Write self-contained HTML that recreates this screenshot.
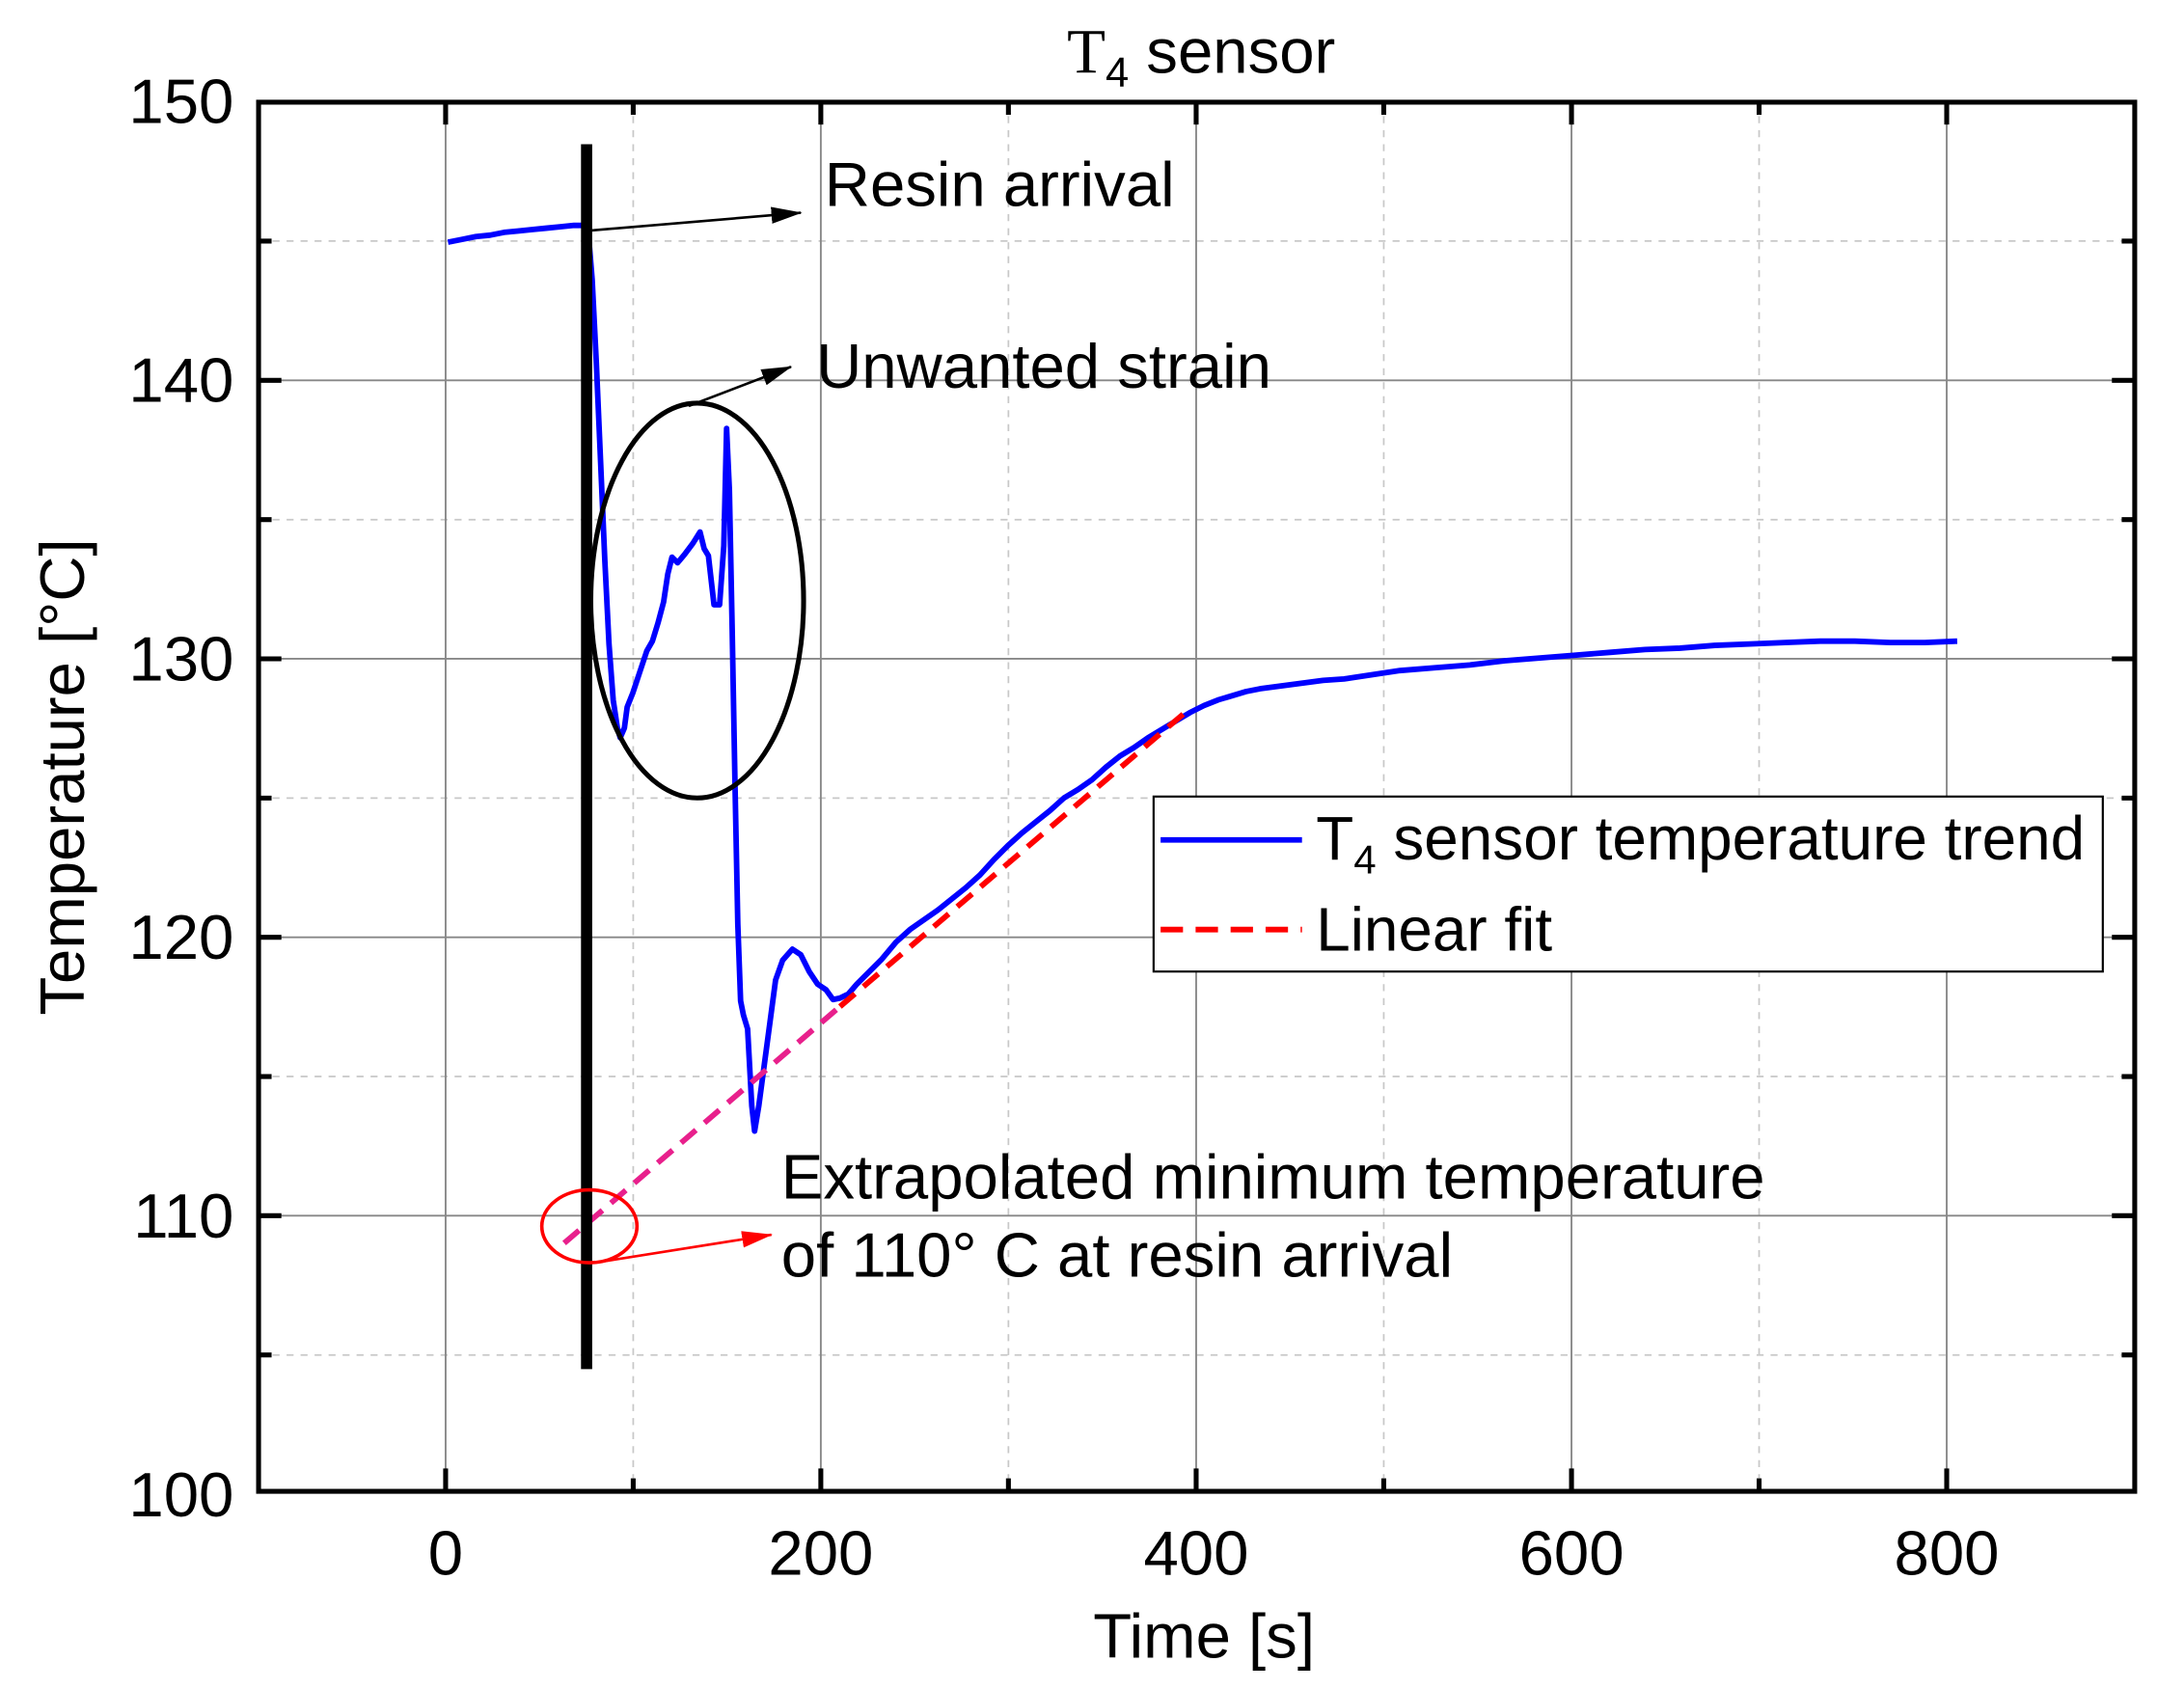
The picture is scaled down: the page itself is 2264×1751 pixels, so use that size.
<!DOCTYPE html>
<html><head><meta charset="utf-8"><style>
html,body{margin:0;padding:0;background:#fff;}
svg{display:block;}
text{font-family:"Liberation Sans",Arial,sans-serif;fill:#000;}
</style></head><body>
<svg width="2264" height="1751" viewBox="0 0 1560 1206.5" preserveAspectRatio="none" xmlns="http://www.w3.org/2000/svg">
<defs>
<marker id="ak" markerWidth="22" markerHeight="12" refX="21" refY="6" orient="auto" markerUnits="userSpaceOnUse"><path d="M0,0 L22,6 L0,12 z" fill="#000"/></marker>
<marker id="akr" markerWidth="22" markerHeight="12" refX="21" refY="6" orient="auto" markerUnits="userSpaceOnUse"><path d="M0,0 L22,6 L0,12 z" fill="#f00"/></marker>
</defs>
<g stroke="#c8c8c8" stroke-width="1.2" stroke-dasharray="5,5">
<line x1="184.7" y1="172.2" x2="1524.8" y2="172.2"/>
<line x1="184.7" y1="371.2" x2="1524.8" y2="371.2"/>
<line x1="184.7" y1="570.1" x2="1524.8" y2="570.1"/>
<line x1="184.7" y1="769" x2="1524.8" y2="769"/>
<line x1="184.7" y1="967.9" x2="1524.8" y2="967.9"/>
<line x1="452.3" y1="73" x2="452.3" y2="1065.3"/>
<line x1="720.3" y1="73" x2="720.3" y2="1065.3"/>
<line x1="988.4" y1="73" x2="988.4" y2="1065.3"/>
<line x1="1256.5" y1="73" x2="1256.5" y2="1065.3"/>
</g>
<g stroke="#888" stroke-width="1.3">
<line x1="184.7" y1="271.7" x2="1524.8" y2="271.7"/>
<line x1="184.7" y1="470.6" x2="1524.8" y2="470.6"/>
<line x1="184.7" y1="669.5" x2="1524.8" y2="669.5"/>
<line x1="184.7" y1="868.4" x2="1524.8" y2="868.4"/>
<line x1="318.3" y1="73" x2="318.3" y2="1065.3"/>
<line x1="586.3" y1="73" x2="586.3" y2="1065.3"/>
<line x1="854.4" y1="73" x2="854.4" y2="1065.3"/>
<line x1="1122.5" y1="73" x2="1122.5" y2="1065.3"/>
<line x1="1390.5" y1="73" x2="1390.5" y2="1065.3"/>
</g>
<g stroke="#000" stroke-width="3.5">
<path d="M318.3,1065 v-16 M586.3,1065 v-16 M854.4,1065 v-16 M1122.5,1065 v-16 M1390.5,1065 v-16 M452.3,1065 v-9 M720.3,1065 v-9 M988.4,1065 v-9 M1256.5,1065 v-9"/>
<path d="M318.3,73 v16 M586.3,73 v16 M854.4,73 v16 M1122.5,73 v16 M1390.5,73 v16 M452.3,73 v9 M720.3,73 v9 M988.4,73 v9 M1256.5,73 v9"/>
<path d="M185,271.7 h16 M185,470.6 h16 M185,669.5 h16 M185,868.4 h16 M185,172.2 h9 M185,371.2 h9 M185,570.1 h9 M185,769 h9 M185,967.9 h9"/>
<path d="M1524.5,271.7 h-16 M1524.5,470.6 h-16 M1524.5,669.5 h-16 M1524.5,868.4 h-16 M1524.5,172.2 h-9 M1524.5,371.2 h-9 M1524.5,570.1 h-9 M1524.5,769 h-9 M1524.5,967.9 h-9"/>
</g>
<rect x="184.7" y="73" width="1340.1" height="992.3" fill="none" stroke="#000" stroke-width="3.5"/>
<g font-size="45" text-anchor="end">
<text x="167" y="88">150</text><text x="167" y="287">140</text><text x="167" y="486">130</text>
<text x="167" y="685">120</text><text x="167" y="884">110</text><text x="167" y="1083">100</text>
</g>
<g font-size="45" text-anchor="middle">
<text x="318.3" y="1125">0</text><text x="586.3" y="1125">200</text><text x="854.4" y="1125">400</text>
<text x="1122.5" y="1125">600</text><text x="1390.5" y="1125">800</text>
</g>
<text x="860" y="1184" font-size="45" text-anchor="middle">Time [s]</text>
<text transform="translate(60,555) rotate(-90)" font-size="45" text-anchor="middle">Temperature [°C]</text>
<text x="858" y="52" font-size="45" text-anchor="middle"><tspan font-family="Liberation Serif,serif">T</tspan><tspan font-size="30" dy="10">4</tspan><tspan dy="-10"> sensor</tspan></text>
<polyline fill="none" stroke="#0000ff" stroke-width="4" stroke-linejoin="round" points="320,173 330,171 340,169 350,168 360,166 370,165 380,164 390,163 400,162 410,161 416,161 420,163 423,200 426,260 429,330 432,400 435,460 438,500 441,520 443,527 446,520 448,505 452,495 457,480 462,465 466,458 470,445 474,430 477,410 480,398 484,402 489,396 495,388 500,380 503,392 506,397 510,432 514,432 517,390 519,306 521,350 523,450 525,560 527,660 529,715 531,725 534,735 537,790 539,808 542,790 546,760 550,730 554,700 559,686 566,678 572,682 578,694 584,703 590,707 595,714 600,713 606,710 612,703 620,695 630,685 640,673 650,664 660,657 670,650 680,642 690,634 700,625 710,614 720,604 730,595 740,587 750,579 760,570 770,564 780,557 790,548 800,540 810,534 820,527 830,521 840,515 850,509 860,504 870,500 880,497 890,494 900,492 915,490 930,488 945,486 960,485 980,482 1000,479 1025,477 1050,475 1075,472 1100,470 1125,468 1150,466 1175,464 1200,463 1225,461 1250,460 1275,459 1300,458 1325,458 1350,459 1375,459 1398,458"/>
<line x1="403" y1="888" x2="600" y2="719" stroke="#e8208c" stroke-width="4" stroke-dasharray="14,8"/>
<line x1="600" y1="719" x2="850" y2="506" stroke="#ff0000" stroke-width="4" stroke-dasharray="14,8"/>
<line x1="419" y1="103" x2="419" y2="978" stroke="#000" stroke-width="8"/>
<ellipse cx="498" cy="429" rx="76" ry="141" fill="none" stroke="#000" stroke-width="3.5"/>
<ellipse cx="421" cy="876" rx="34" ry="26" fill="none" stroke="#f00" stroke-width="2.5"/>
<line x1="418" y1="165" x2="572" y2="152" stroke="#000" stroke-width="1.8" marker-end="url(#ak)"/>
<line x1="492" y1="290" x2="565" y2="262" stroke="#000" stroke-width="1.8" marker-end="url(#ak)"/>
<line x1="425" y1="902" x2="551" y2="882" stroke="#f00" stroke-width="1.8" marker-end="url(#akr)"/>
<g font-size="45">
<text x="589" y="147">Resin arrival</text>
<text x="583" y="277">Unwanted strain</text>
<text x="558" y="856">Extrapolated minimum temperature</text>
<text x="558" y="912">of 110° C at resin arrival</text>
</g>
<rect x="824" y="569" width="678" height="125" fill="#fff" stroke="#000" stroke-width="1.5"/>
<line x1="829" y1="600" x2="930" y2="600" stroke="#0000ff" stroke-width="4"/>
<line x1="829" y1="664" x2="930" y2="664" stroke="#f00" stroke-width="4" stroke-dasharray="16,9"/>
<text x="940" y="614" font-size="44">T<tspan font-size="29" dy="10">4</tspan><tspan dy="-10"> sensor temperature trend</tspan></text>
<text x="940" y="679" font-size="44">Linear fit</text>
</svg>
</body></html>
